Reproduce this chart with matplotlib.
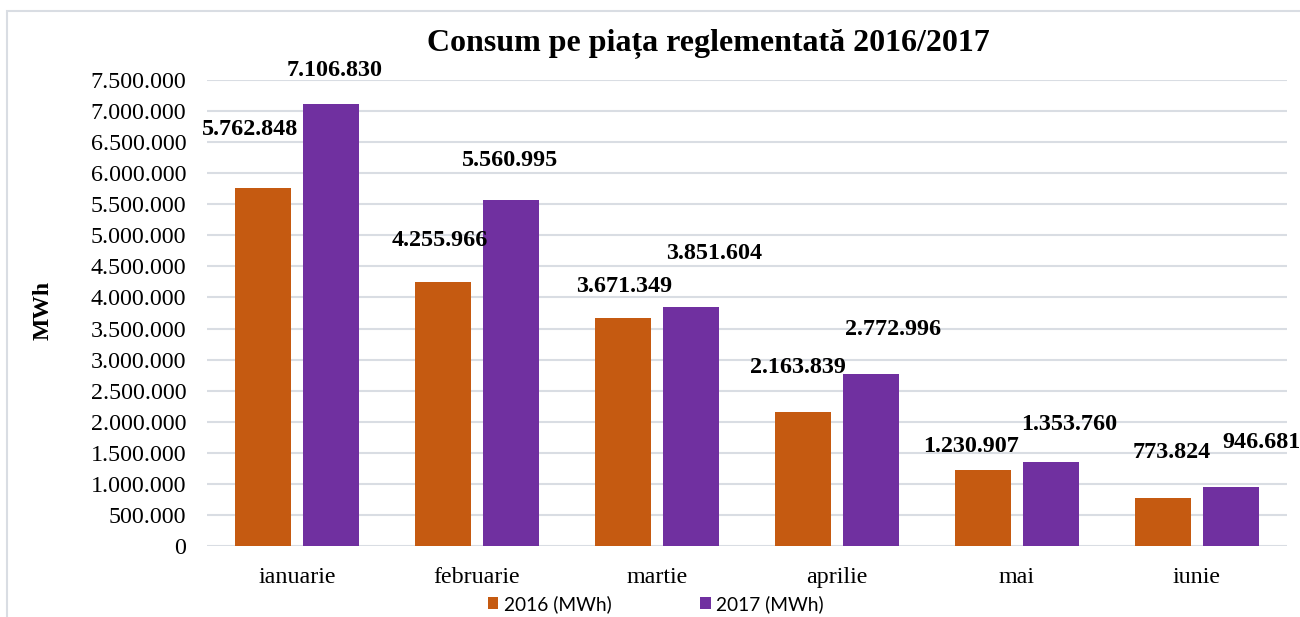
import matplotlib
matplotlib.use("Agg")
import matplotlib.pyplot as plt
from matplotlib.patches import Rectangle
import numpy as np

months = ["ianuarie", "februarie", "martie", "aprilie", "mai", "iunie"]
series_names = ["2016 (MWh)", "2017 (MWh)"]
values_2016 = [5762848, 4255966, 3671349, 2163839, 1230907, 773824]
values_2017 = [7106830, 5560995, 3851604, 2772996, 1353760, 946681]
yticks = list(range(0, 7500001, 500000))

colors = ["#C55A11", "#7030A0"]
# label offsets in pixels (dx, dy) relative to bar top centre
offs_2016 = [(-13, 56), (-3, 39), (1, 29), (-5, 42), (-12, 21), (9, 43)]
offs_2017 = [(3, 32), (-1, 38), (23, 51), (22, 42), (18, 35), (30, 43)]

def fmt(v):
    return f"{v:,}".replace(",", ".")

fig = plt.figure(figsize=(13, 6.17), dpi=100)
fig.patches.append(Rectangle((7/1300, -0.05), 1.2, 1 - 11/617 + 0.05,
                             transform=fig.transFigure, fill=False,
                             edgecolor="#d9dde3", linewidth=1.5))
ax = fig.add_axes([207/1300, 1 - 546/617, (1287 - 207)/1300, (546 - 80)/617])

x = np.arange(len(months))
w = 0.31
b1 = ax.bar(x - 0.19, values_2016, w, color=colors[0], label=series_names[0], zorder=3)
b2 = ax.bar(x + 0.19, values_2017, w, color=colors[1], label=series_names[1], zorder=3)

serif = "Liberation Serif"
for bars, vals, offs in ((b1, values_2016, offs_2016), (b2, values_2017, offs_2017)):
    for bar, v, (dx, dy) in zip(bars, vals, offs):
        ax.annotate(fmt(v), (bar.get_x() + bar.get_width()/2, v),
                    xytext=(dx*0.72, (dy + 2)*0.72), textcoords="offset points",
                    ha="center", va="center", fontsize=17.4, fontweight="bold",
                    family=serif, zorder=4)

ax.set_xlim(-0.5, len(months) - 0.5)
ax.set_ylim(0, 7500000)
ax.set_yticks(yticks)
ax.set_yticklabels([fmt(t) for t in yticks], family=serif, fontsize=17.3)
ax.set_xticks(x)
ax.set_xticklabels(months, family=serif, fontsize=17.3)
ax.tick_params(axis="both", length=0)
ax.tick_params(axis="y", pad=15)
ax.tick_params(axis="x", pad=15)
ax.grid(axis="y", color="#d9dde3", linewidth=1.5, zorder=0)
for s in ax.spines.values():
    s.set_visible(False)

fig.text(708/1300, 1 - 44/617, "Consum pe piața reglementată 2016/2017", ha="center", va="center",
         family=serif, fontsize=23, fontweight="bold")
fig.text(43/1300, 1 - 310/617, "MWh", rotation=90, ha="center", va="center",
         family=serif, fontsize=17, fontweight="bold")

leg = fig.legend(handles=[b1, b2], labels=series_names, loc="center",
                 bbox_to_anchor=(656/1300, 1 - 604/617), ncol=2, frameon=False,
                 prop={"family": "Lato", "size": 13.8}, handlelength=0.55, handleheight=0.55,
                 columnspacing=4.6, handletextpad=0.3, borderpad=0, borderaxespad=0)

fig.savefig("out.png", dpi=100)
